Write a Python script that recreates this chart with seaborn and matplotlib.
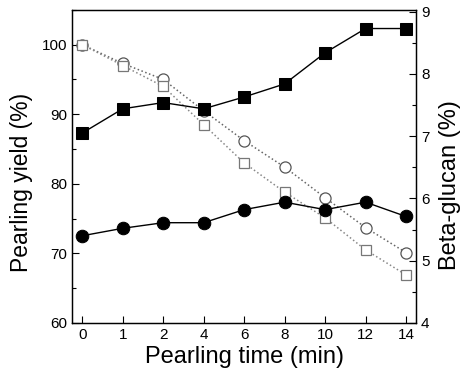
import numpy as np
import pandas as pd
import matplotlib
matplotlib.use('Agg')
import matplotlib.pyplot as plt
import seaborn as sns
from matplotlib.ticker import MultipleLocator

# === Data ===
times = ['0', '1', '2', '4', '6', '8', '10', '12', '14']
yield_circle = [100.0, 97.3, 95.0, 90.5, 86.2, 82.4, 78.0, 73.7, 70.1]
yield_square = [100.0, 97.0, 94.0, 88.5, 83.0, 78.8, 75.1, 70.5, 66.9]
glucan_square = [7.05, 7.44, 7.54, 7.44, 7.63, 7.84, 8.34, 8.73, 8.73]
glucan_circle = [5.40, 5.52, 5.61, 5.61, 5.82, 5.94, 5.82, 5.94, 5.71]

pos = np.arange(len(times))
df = pd.DataFrame({'pos': pos, 'time': times,
                   'yield_circle': yield_circle, 'yield_square': yield_square,
                   'glucan_square': glucan_square, 'glucan_circle': glucan_circle})

sns.set_style('ticks', {'text.color': 'black', 'axes.labelcolor': 'black',
                        'xtick.color': 'black', 'ytick.color': 'black'})
plt.rcParams['font.family'] = ['Liberation Sans', 'DejaVu Sans']

fig = plt.figure(figsize=(4.65, 3.79), dpi=100)
ax = fig.add_axes([0.155, 0.148, 0.74, 0.826])
ax2 = ax.twinx()

# === Pearling yield (open markers, dotted) ===
sns.lineplot(data=df, x='pos', y='yield_circle', ax=ax, color='#666666', linestyle=':',
             linewidth=1.1, marker='o', markersize=8, markerfacecolor='white',
             markeredgecolor='#555555', markeredgewidth=0.9)
sns.lineplot(data=df, x='pos', y='yield_square', ax=ax, color='#888888', linestyle=':',
             linewidth=1.1, marker='s', markersize=7, markerfacecolor='white',
             markeredgecolor='#777777', markeredgewidth=0.9)

# === Beta-glucan (filled markers, solid) ===
sns.lineplot(data=df, x='pos', y='glucan_square', ax=ax2, color='black', linewidth=1,
             marker='s', markersize=8, markeredgecolor='black')
sns.lineplot(data=df, x='pos', y='glucan_circle', ax=ax2, color='black', linewidth=1,
             marker='o', markersize=9, markeredgecolor='black')

ax.set_xlim(-0.25, 8.25)
ax.set_ylim(60, 105)
ax2.set_ylim(4, 9.03)
ax.set_xticks(pos)
ax.set_xticklabels(times)
ax.yaxis.set_major_locator(MultipleLocator(10))
ax.yaxis.set_minor_locator(MultipleLocator(5))
ax2.yaxis.set_major_locator(MultipleLocator(1))
ax2.yaxis.set_minor_locator(MultipleLocator(0.5))

for a in (ax, ax2):
    a.tick_params(which='both', direction='in', labelsize=11, width=0.8, colors='black')
    a.tick_params(which='major', length=5)
    a.tick_params(which='minor', length=3)
    for s in a.spines.values():
        s.set_visible(True)
        s.set_linewidth(0.9)
        s.set_color('black')

ax.set_xlabel('Pearling time (min)', fontsize=17, labelpad=3, color='black')
ax.set_ylabel('Pearling yield (%)', fontsize=16.5, color='black')
ax2.set_ylabel('Beta-glucan (%)', fontsize=17, color='black')
ax.yaxis.set_label_coords(-0.115, 0.45)
ax2.yaxis.set_label_coords(1.065, 0.44)

fig.savefig('out.png', dpi=100)
